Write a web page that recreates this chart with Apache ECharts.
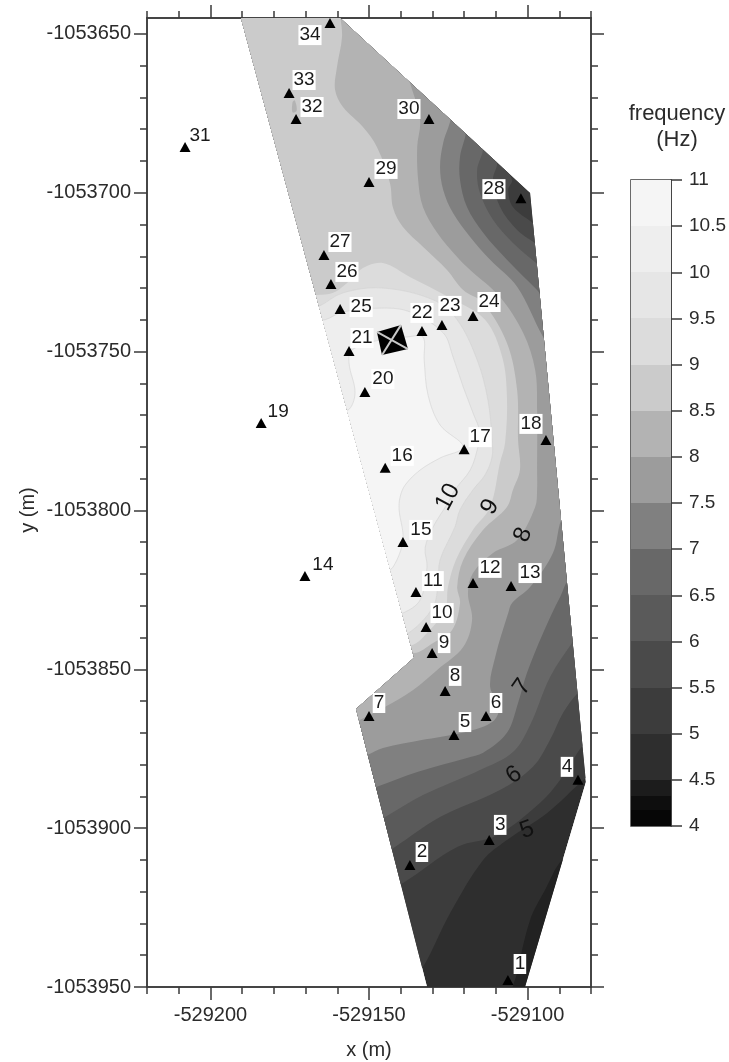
<!DOCTYPE html>
<html><head><meta charset="utf-8">
<style>html,body{margin:0;padding:0;background:#fff}#c{width:729px;height:1062px}</style>
<script src="https://cdn.jsdelivr.net/npm/echarts@6/dist/echarts.min.js"></script>
</head><body><div id="c"></div>
<script>
// Map origin (metres); every map value below is an offset in metres from this origin.
const xOrigin = -529220, yOrigin = -1053950;
const xMin = -529220, xMax = -529080, yMin = -1053950, yMax = -1053645;
const xMajorTicks = [-529200,-529150,-529100];
const xMinorTicks = [-529220,-529210,-529200,-529190,-529180,-529170,-529160,-529150,-529140,-529130,-529120,-529110,-529100,-529090,-529080];
const yMajorTicks = [-1053950,-1053900,-1053850,-1053800,-1053750,-1053700,-1053650];
const yMinorTicks = [-1053950,-1053940,-1053930,-1053920,-1053910,-1053900,-1053890,-1053880,-1053870,-1053860,-1053850,-1053840,-1053830,-1053820,-1053810,-1053800,-1053790,-1053780,-1053770,-1053760,-1053750,-1053740,-1053730,-1053720,-1053710,-1053700,-1053690,-1053680,-1053670,-1053660,-1053650];

const stationNames = ['1','2','3','4','5','6','7','8','9','10','11','12','13','14','15','16','17','18','19','20','21','22','23','24','25','26','27','28','29','30','31','32','33','34'];
const stationX = [113.8,82.9,107.9,135.9,96.8,106.9,70.0,94.0,89.9,88.0,84.8,102.8,114.8,49.8,80.7,75.1,100.0,125.8,36.0,68.7,63.7,86.7,93.0,102.8,60.9,58.0,55.8,117.9,70.0,88.9,12.0,47.0,44.8,57.7];
const stationY = [2.2,38.4,46.3,65.2,79.3,85.3,85.3,93.2,105.1,113.3,124.3,127.2,126.2,129.4,140.1,163.4,169.3,172.2,177.5,187.3,200.2,206.5,208.4,211.2,213.4,221.3,230.4,248.3,253.4,273.2,264.4,273.2,281.4,303.4];

const outline = [[29.6,305],[60.9,305],[120.8,249.9],[138.4,64.5],[119.2,0],[88.3,0],[65.9,87.5],[84.2,103.6]];
const contour4 = [[115.4,-2.5],[116.7,4.4],[120.8,21.1],[125.5,30.5],[130.9,40.0],[135,40.0],[123.9,-2.5]];
const contour5 = [[84.5,5.4],[87.0,6.3],[95.6,23.3],[106.0,40.0],[113.5,46.3],[126.2,54.8],[136.6,64.2],[139.7,66.4],[150,66.4],[150,312],[0,312],[0,5.4]];
const contour55 = [[78.2,31.8],[80.7,32.7],[97.8,44.1],[110.4,47.8],[123.9,57.9],[130.3,65.2],[137.5,76.2],[140.3,77.8],[150,77.8],[150,238.9],[123.9,238.9],[121.7,240.5],[115.4,245.5],[113.9,250.9],[115.1,254.0],[111.3,260.3],[79.8,310.7],[0,312],[0,31.8]];
const contour6 = [[75.7,42.8],[78.2,44.1],[92.4,53.5],[111.3,62.0],[121.7,69.3],[127.1,77.8],[131.2,86.3],[135.9,92.6],[139.1,95.1],[150,95.1],[150,233.0],[123.9,233.0],[122.1,234.3],[116.7,238.3],[111.3,245.6],[109.1,254.1],[110.4,259.4],[108.8,263.5],[79.8,310.7],[0,312],[0,42.8]];
const contour65 = [[72.5,52.3],[75.1,53.5],[87.0,60.4],[105.0,68.3],[115.4,74.0],[120.8,82.5],[127.1,97.6],[134.0,108.3],[137.2,112.4],[150,112.4],[150,225.7],[125.5,225.7],[122.7,227.9],[115.4,234.2],[109.1,241.5],[105.0,249.9],[104.1,257.2],[106.0,264.1],[104.4,268.2],[79.8,310.7],[0,312],[0,52.3]];
const contour7 = [[70.0,62.0],[72.5,63.0],[85.2,67.7],[100.9,72.1],[106.0,73.7],[113.5,80.0],[117.0,89.4],[119.8,98.8],[124.9,111.4],[130.3,122.8],[134.0,128.8],[150,128.8],[150,216.9],[125.5,216.9],[123.0,219.4],[113.5,228.9],[106.0,237.4],[100.9,245.5],[98.7,254.0],[98.7,261.3],[100.6,269.8],[98.7,273.6],[79.8,310.7],[0,312],[0,62.0]];
const contour75 = [[66.9,72.1],[69.4,73.0],[74.4,75.2],[87.0,77.8],[92.4,78.7],[102.8,80.9],[109.5,84.0],[111.0,88.5],[108.2,94.4],[109.8,103.9],[113.9,117.7],[115.1,120.9],[120.8,125.9],[128.0,136.6],[130.6,147.0],[133.4,150.2],[150,150.2],[150,202.1],[127.1,202.1],[124.9,204.6],[116.7,220.4],[108.2,228.9],[101.9,236.1],[96.5,243.6],[93.4,250.9],[92.4,258.1],[93.4,265.7],[95.9,274.2],[94.3,277.6],[79.8,310.7],[0,312],[0,72.1]];
const contour8 = [[64.0,82.8],[67.2,84.1],[74.4,87.8],[83.9,93.5],[91.5,99.8],[99.7,107.0],[102.5,115.5],[101.2,124.0],[102.8,130.3],[109.1,136.6],[116.7,140.7],[122.4,151.1],[123.0,156.5],[123.0,162.7],[123.0,181.6],[122.4,194.2],[118.6,205.9],[111.3,217.2],[101.9,225.7],[97.8,229.8],[91.5,237.4],[87.0,245.5],[85.5,254.0],[85.2,264.4],[86.1,272.9],[82.9,284.6],[81.4,288.0],[73.5,310.7],[0,312],[0,82.8]];
const contour85 = [[79.8,107.7],[84.2,105.1],[90.2,108.3],[96.2,112.4],[98.7,120.9],[97.8,125.9],[99.7,134.4],[106.0,143.9],[113.5,151.1],[115.4,156.5],[117.6,162.7],[117.0,172.2],[116.7,187.9],[113.5,202.7],[106.0,215.3],[99.7,219.4],[94.6,225.7],[87.0,233.0],[80.7,239.2],[77.6,245.2],[76.6,253.1],[72.5,264.4],[68.1,270.7],[61.8,277.0],[59.3,282.4],[59.9,289.6],[61.5,299.1],[60.9,306.3],[60.9,312],[0,312],[0,107.7]];
const spot8 = [[45.9,278.5],[46.6,279.1],[47.2,275.9],[45.9,275.3]];
const contour9 = [[51.4,217.8],[53.6,217.8],[58.7,218.5],[63.1,221.6],[68.1,226.3],[74.4,227.9],[82.9,223.5],[95.6,216.9],[106.6,210.0],[112.0,198.3],[113.5,185.7],[112.9,171.2],[111.3,165.0],[108.2,151.1],[102.8,143.9],[97.4,134.4],[94.9,125.9],[94.0,118.7],[87.7,110.8],[83.9,107.7],[79.8,107.7]];
const contour95 = [[51.4,214.1],[53.9,214.1],[61.8,218.5],[74.4,220.0],[90.2,216.3],[97.8,210.0],[104.1,197.4],[107.5,184.8],[108.8,172.2],[108.8,166.8],[106.6,161.2],[102.8,156.5],[98.7,150.2],[97.1,144.8],[92.4,134.4],[91.8,127.2],[90.2,119.6],[82.9,111.7],[79.2,111.7]];
const contour10 = [[53.0,210.0],[56.1,210.0],[61.8,212.5],[74.4,213.7],[82.9,212.5],[93.4,205.9],[96.5,198.3],[99.7,188.9],[102.8,180.7],[105.0,174.4],[104.1,169.0],[101.9,162.7],[97.1,156.5],[94.9,152.4],[90.2,144.8],[87.7,138.2],[88.3,132.2],[86.1,121.8],[80.7,117.7],[77.3,117.7]];
const contour105 = [[63.7,196.4],[64.6,200.5],[73.5,203.7],[82.0,204.6],[87.0,204.6],[87.4,197.4],[88.6,186.4],[92.4,176.9],[99.7,170.0],[92.4,166.5],[86.1,162.7],[81.4,158.0],[79.8,154.2],[79.5,150.2],[80.7,140.7],[77.6,132.2],[75.1,131.3],[59.3,183.2],[63.4,181.6],[65.6,187.0]];
const building = [[72.5,206.2],[80.1,208.4],[82.3,200.8],[74.1,198.9]];

const contourLabelText = ['10','9','8','7','6','5'];
const contourLabelX = [94.9,108.2,118.6,118.3,115.7,119.8];
const contourLabelY = [154.2,151.1,142.3,94.4,66.7,49.4];

const legendLow  = [4,4.17,4.33,4.5,5,5.5,6,6.5,7,7.5,8,8.5,9,9.5,10,10.5];
const legendHigh = [4.17,4.33,4.5,5,5.5,6,6.5,7,7.5,8,8.5,9,9.5,10,10.5,11];
const legendFill = ['#060606','#0e0e0e','#1c1c1c','#2e2e2e','#3c3c3c','#4a4a4a','#5a5a5a','#686868','#808080','#9c9c9c','#b3b3b3','#cbcbcb','#dcdcdc','#e6e6e6','#eeeeee','#f5f5f5'];

// ---- layout and style ----
const FONT = '"Liberation Sans", Arial, sans-serif';
const INK = '#2b2b2b', AXIS = '#3a3a3a';
const labelOffsets = [[12,-16],[12,-13],[11,-15],[-11,-13],[11,-13],[10,-13],[10,-13],[10,-15],[12,-10],[16,-14],[17,-11],[17,-15],[19,-13],[18,-11],[18,-12],[17,-12],[16,-12],[-15,-16],[17,-11],[18,-13],[13,-13],[0,-18],[8,-19],[16,-14],[21,-2],[16,-12],[16,-13],[-27,-9],[17,-13],[-20,-10],[15,-11],[16,-12],[15,-13],[-20,12]];
const contourLabelRot = [62,60,68,55,35,20];
const layers = [
  {p:outline,fill:'#2e2e2e'},{p:contour4,fill:'#222222'},{p:contour5,fill:'#3c3c3c'},{p:contour55,fill:'#4a4a4a'},
  {p:contour6,fill:'#5a5a5a'},{p:contour65,fill:'#686868'},{p:contour7,fill:'#808080'},{p:contour75,fill:'#9c9c9c'},
  {p:contour8,fill:'#b3b3b3'},{p:contour85,fill:'#cbcbcb'},{p:spot8,fill:'#b3b3b3'},{p:contour9,fill:'#dcdcdc'},
  {p:contour95,fill:'#e6e6e6',line:1},{p:contour10,fill:'#eeeeee',line:1},{p:contour105,fill:'#f5f5f5',line:1}
];
const toData = d => [xOrigin + d[0], yOrigin + d[1]];

function xAx(pos, ticks, len, labels, extra) {
  return Object.assign({type:'value',position:pos,min:xMin,max:xMax,interval:10,gridIndex:0,
    axisLine:{show:true,onZero:false,lineStyle:{color:AXIS,width:1.5}},
    axisTick:{show:true,customValues:ticks,length:len,lineStyle:{color:AXIS,width:1.5}},
    axisLabel:labels?{show:true,customValues:xMajorTicks,margin:18,fontSize:20,fontFamily:FONT,color:INK,formatter:v=>String(v)}:{show:false},
    splitLine:{show:false}},extra||{});
}
function yAx(pos, ticks, len, labels) {
  return {type:'value',position:pos,min:yMin,max:yMax,interval:10,gridIndex:0,
    axisLine:{show:true,onZero:false,lineStyle:{color:AXIS,width:1.5}},
    axisTick:{show:true,customValues:ticks,length:len,lineStyle:{color:AXIS,width:1.5}},
    axisLabel:labels?{show:true,customValues:yMajorTicks,margin:16,fontSize:20,fontFamily:FONT,color:INK,formatter:v=>String(v)}:{show:false},
    splitLine:{show:false}};
}

const option = {
  animation:false,
  backgroundColor:'#ffffff',
  grid:[
    {left:147,right:138,top:18,bottom:75,outerBoundsMode:'none'},
    {left:631,width:40,top:180,height:646,outerBoundsMode:'none',show:true,borderColor:AXIS,borderWidth:1.5,backgroundColor:'transparent'}
  ],
  xAxis:[
    xAx('bottom',xMajorTicks,13,true,{name:'x (m)',nameLocation:'middle',nameGap:53,nameTextStyle:{fontSize:20,fontFamily:FONT,color:INK}}),
    xAx('bottom',xMinorTicks,7,false),xAx('top',xMajorTicks,13,false),xAx('top',xMinorTicks,7,false),
    {type:'value',gridIndex:1,min:0,max:1,show:false,axisLine:{onZero:false}}
  ],
  yAxis:[
    yAx('left',yMajorTicks,13,true),yAx('left',yMinorTicks,7,false),yAx('right',yMajorTicks,13,false),yAx('right',yMinorTicks,7,false),
    {type:'value',gridIndex:1,position:'right',min:4,max:11,interval:0.5,
      axisLine:{show:true,onZero:false,lineStyle:{color:AXIS,width:1.5}},
      axisTick:{show:true,inside:false,length:11,lineStyle:{color:AXIS,width:1.5}},
      axisLabel:{show:true,margin:18,fontSize:19,fontFamily:FONT,color:INK,formatter:v=>String(v)},
      splitLine:{show:false}}
  ],
  graphic:[
    {type:'text',rotation:Math.PI/2,x:28,y:510,style:{text:'y (m)',font:'20px '+FONT,fill:INK,textAlign:'center',textVerticalAlign:'middle'}},
    {type:'text',x:677,y:114,style:{text:'frequency',font:'22px '+FONT,fill:INK,textAlign:'center',textVerticalAlign:'middle'}},
    {type:'text',x:677,y:140,style:{text:'(Hz)',font:'22px '+FONT,fill:INK,textAlign:'center',textVerticalAlign:'middle'}}
  ],
  series:[
    {type:'custom',xAxisIndex:0,yAxisIndex:0,silent:true,clip:false,z:1,
     data:layers.map((_,i)=>[i]),
     encode:{x:-1,y:-1},
     renderItem:function(params,api){
       const l = layers[params.dataIndex];
       const pts = l.p.map(d=>api.coord(toData(d)));
       const clipPts = outline.map(d=>api.coord(toData(d)));
       return {type:'polygon',shape:{points:pts,smooth:l.p===outline?0:0.35},
         style:{fill:l.fill,stroke:l.line?'#d2d2d2':null,lineWidth:l.line?0.6:0},
         clipPath:{type:'polygon',shape:{points:clipPts}}};
     }},
    {type:'custom',xAxisIndex:0,yAxisIndex:0,silent:true,z:3,data:[[0]],encode:{x:-1,y:-1},
     renderItem:function(params,api){
       const b = building.map(d=>api.coord(toData(d)));
       return {type:'group',children:[
         {type:'polygon',shape:{points:b},style:{fill:'#000'}},
         {type:'line',shape:{x1:b[0][0],y1:b[0][1],x2:b[2][0],y2:b[2][1]},style:{stroke:'#c8c8c8',lineWidth:2}},
         {type:'line',shape:{x1:b[1][0],y1:b[1][1],x2:b[3][0],y2:b[3][1]},style:{stroke:'#c8c8c8',lineWidth:2}}
       ]};
     }},
    {type:'scatter',xAxisIndex:0,yAxisIndex:0,silent:true,z:4,symbol:'circle',symbolSize:2,clip:false,
     itemStyle:{color:'transparent',opacity:1},
     data:contourLabelText.map((t,i)=>({value:toData([contourLabelX[i],contourLabelY[i]]),
       label:{show:true,position:'inside',formatter:t,rotate:contourLabelRot[i],fontSize:24,fontFamily:FONT,color:'#111111'}}))},
    {type:'scatter',xAxisIndex:0,yAxisIndex:0,silent:true,z:5,clip:false,symbol:'triangle',symbolSize:[11,10],
     itemStyle:{color:'#000',opacity:1},
     data:stationNames.map((t,i)=>({value:toData([stationX[i],stationY[i]]),
       label:{show:true,position:'inside',offset:labelOffsets[i],formatter:t,fontSize:19,fontFamily:FONT,color:'#1a1a1a',
         backgroundColor:'#fff',padding:[1,1,0,1],lineHeight:19}}))},
    {type:'custom',xAxisIndex:4,yAxisIndex:4,silent:true,z:1,
     data:legendLow.map((v,i)=>[0,v,legendHigh[i]]),
     encode:{y:[1,2]},
     renderItem:function(params,api){
       const a = api.coord([0,api.value(1)]), b = api.coord([1,api.value(2)]);
       const y1 = Math.round(b[1]), y2 = Math.round(a[1]);
       return {type:'rect',shape:{x:a[0],y:y1,width:b[0]-a[0],height:y2-y1},
         style:{fill:legendFill[params.dataIndex]}};
     }}
  ]
};
const chart = echarts.init(document.getElementById('c'),null,{renderer:'canvas',width:729,height:1062});
chart.setOption(option);
</script></body></html>
